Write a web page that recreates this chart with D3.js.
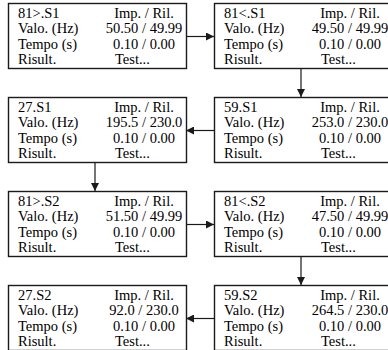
<!DOCTYPE html>
<html>
<head>
<meta charset="utf-8">
<script src="https://cdn.jsdelivr.net/npm/d3@7"></script>
<style>
  html, body { margin: 0; padding: 0; background: #fff; }
  svg { display: block; }
</style>
</head>
<body>
<svg id="chart" width="388" height="350"></svg>
<script>
// ---- data (flow order) ----
const steps    = ["81>.S1", "81<.S1", "59.S1", "27.S1", "81>.S2", "81<.S2", "59.S2", "27.S2"];
const impValue = ["50.50", "49.50", "253.0", "195.5", "51.50", "47.50", "264.5", "92.0"];
const rilValue = ["49.99", "49.99", "230.0", "230.0", "49.99", "49.99", "230.0", "230.0"];
const tempoImp = ["0.10", "0.10", "0.10", "0.10", "0.10", "0.10", "0.10", "0.10"];
const tempoRil = ["0.00", "0.00", "0.00", "0.00", "0.00", "0.00", "0.00", "0.00"];
const rowLabels = ["Valo. (Hz)", "Tempo (s)", "Risult."];
const headerRight = "Imp. / Ril.";
const resultText = "Test...";

// ---- layout ----
const boxW = 178, boxH = 65;
const x = d3.scalePoint().domain([0, 1]).range([8, 214]);
const y = d3.scaleLinear().domain([0, 3]).range([3, 285]);
const lineY = d3.scaleLinear().domain([0, 3]).range([15, 61]);

const nodes = steps.map((s, i) => {
  const row = Math.floor(i / 2);
  const col = row % 2 === 0 ? i % 2 : 1 - (i % 2);
  return {
    name: s, row, col,
    x: x(col), y: y(row),
    rightLines: [headerRight, impValue[i] + " / " + rilValue[i], tempoImp[i] + " / " + tempoRil[i]]
  };
});

const svg = d3.select("#chart");
const ink = "#1a1a1a";

svg.append("defs").append("marker")
  .attr("id", "arrow")
  .attr("viewBox", "0 0 10 10")
  .attr("refX", 10).attr("refY", 5)
  .attr("markerWidth", 9).attr("markerHeight", 8)
  .attr("markerUnits", "userSpaceOnUse")
  .attr("orient", "auto")
  .append("path").attr("d", "M0,0 L10,5 L0,10 z").attr("fill", ink);

// connectors
const links = d3.pairs(nodes);
svg.append("g").selectAll("line").data(links).join("line")
  .attr("x1", ([a, b]) => a.row === b.row ? (b.col > a.col ? a.x + boxW : a.x) : a.x + boxW / 2 - 2)
  .attr("x2", ([a, b]) => a.row === b.row ? (b.col > a.col ? b.x : b.x + boxW) : b.x + boxW / 2 - 2)
  .attr("y1", ([a, b]) => a.row === b.row ? a.y + boxH / 2 + 1 : a.y + boxH)
  .attr("y2", ([a, b]) => a.row === b.row ? a.y + boxH / 2 + 1 : b.y)
  .attr("stroke", ink).attr("stroke-width", 1.2)
  .attr("marker-end", "url(#arrow)");

// boxes
const g = svg.append("g").selectAll("g").data(nodes).join("g")
  .attr("transform", d => `translate(${d.x},${d.y})`);

g.append("rect")
  .attr("x", 0.5).attr("y", 0.5)
  .attr("width", boxW).attr("height", boxH)
  .attr("fill", "#fff").attr("stroke", ink).attr("stroke-width", 1.4);

const font = "'Liberation Serif', 'Times New Roman', serif";

g.append("text")
  .attr("x", 10).attr("y", lineY(0))
  .attr("font-family", font).attr("font-size", 14.5).attr("fill", "#000")
  .text(d => d.name);

g.selectAll("text.lab").data(rowLabels.map((l, k) => ({ l, k }))).join("text")
  .attr("class", "lab")
  .attr("x", 10).attr("y", d => lineY(d.k + 1))
  .attr("font-family", font).attr("font-size", 14.5).attr("fill", "#000")
  .text(d => d.l);

g.selectAll("text.val").data(d => d.rightLines.map((t, k) => ({ t, k }))).join("text")
  .attr("class", "val")
  .attr("x", 136).attr("y", d => lineY(d.k))
  .attr("text-anchor", "middle")
  .attr("font-family", font).attr("font-size", 14.5).attr("fill", "#000")
  .text(d => d.t);

g.append("text")
  .attr("x", 107).attr("y", lineY(3))
  .attr("font-family", font).attr("font-size", 14.5).attr("fill", "#000")
  .text(resultText);
</script>
</body>
</html>
